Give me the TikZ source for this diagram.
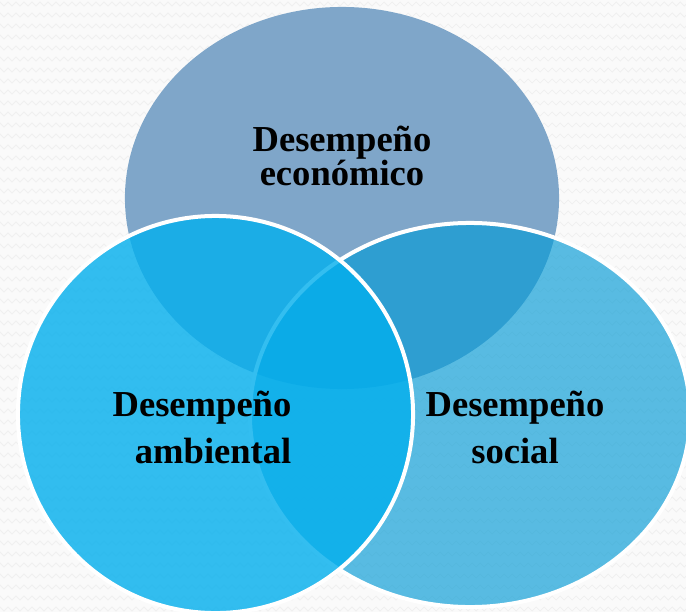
\documentclass[tikz,border=0pt]{standalone}
\usepackage{fontspec}
\setmainfont{Liberation Serif}
\usetikzlibrary{shapes,
	decorations.pathmorphing}
\definecolor{ecofill}{RGB}{127,166,201}
\definecolor{ambfill}{RGB}{4,175,237}
\definecolor{socfill}{RGB}{5,155,214}
\tikzstyle{bgzig}=[draw=black!6, line width=0.6pt, decorate,
		decoration={zigzag, segment length=0.2cm, amplitude=0.05cm}]
\tikzstyle{venn}=[ellipse, inner sep=0, line width=0.1cm]
\tikzstyle{veco}=[venn, fill=ecofill, minimum width=10.85cm, minimum height=9.55cm]
\tikzstyle{vsoc}=[venn, draw=white, fill=socfill, fill opacity=0.66,
		minimum width=11cm, minimum height=9.6cm]
\tikzstyle{vamb}=[venn, draw=white, fill=ambfill, fill opacity=0.81,
		minimum width=9.875cm, minimum height=9.925cm]
\tikzstyle{lbl}=[font=\bfseries\fontsize{26}{34}\selectfont, inner sep=0]

\begin{document}
\begin{tikzpicture}[x=0.025cm, y=-0.025cm]
        \useasboundingbox[fill=black!2] (0,0) rectangle (686,612);
        \foreach \r in {4,15,...,620}
            \draw[bgzig] (-10,\r) -- (700,\r);
        \node[veco] (eco) at (342,198) {};
        \node[vsoc] (soc) at (470,415) {};
        \node[vamb] (amb) at (215.5,414.5) {};
        \node[lbl, align=center, font=\bfseries\fontsize{26}{23.5}\selectfont] (leco) at (342,156) {Desempeño\\económico};
        \node[lbl, align=right] (lamb) at (202,427.5) {Desempeño\\ambiental};
        \node[lbl, align=center] (lsoc) at (515,427.5) {Desempeño\\social};
    \end{tikzpicture}
\end{document}
